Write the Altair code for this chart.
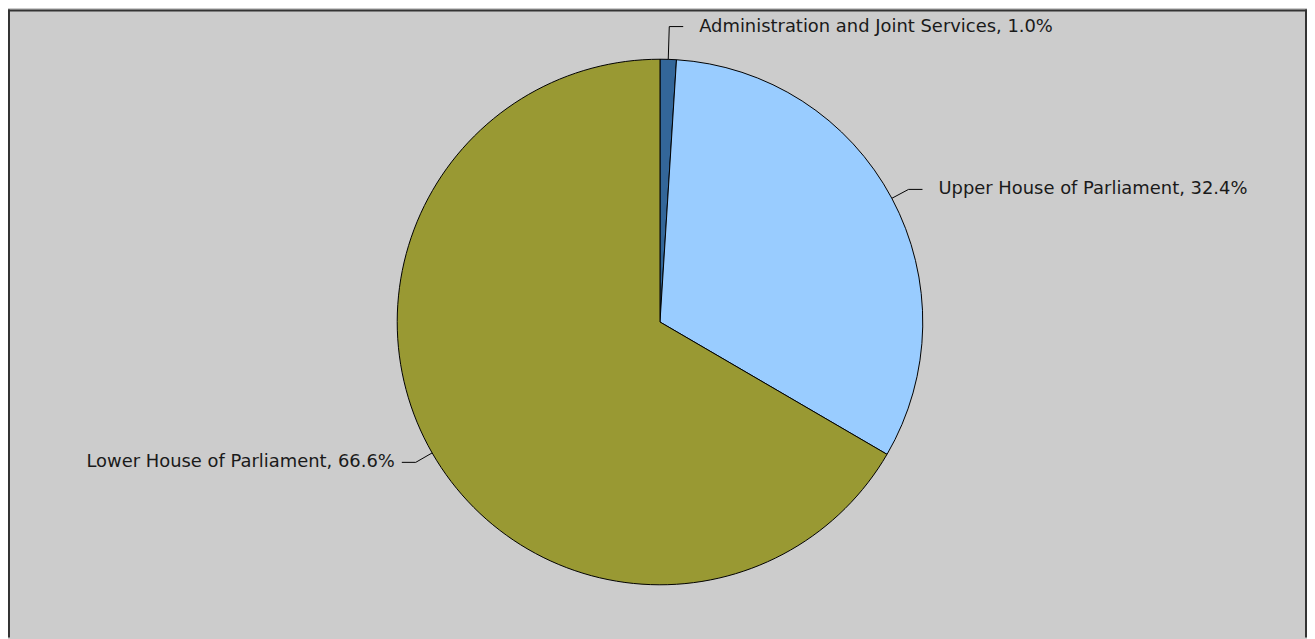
import math
import altair as alt
import pandas as pd

# ---- data ----
categories = ["Administration and Joint Services", "Upper House of Parliament", "Lower House of Parliament"]
shares = [1.0, 32.4, 66.6]
colors = ["#336699", "#99ccff", "#999933"]

# ---- layout / style ----
W, H = 1305, 631
CX, CY = 655, 314
R = 264
FONT = "DejaVu Sans"
FSIZE = 18

pie_df = pd.DataFrame({"category": categories, "share": shares, "idx": list(range(len(shares)))})

# label geometry derived from the slice angles
total = sum(shares)
seg_rows, text_rows = [], []
cum = 0.0
for cat, v in zip(categories, shares):
    a = (cum + v / 2) / total * 2 * math.pi
    cum += v
    s, c = math.sin(a), math.cos(a)
    ex, ey = CX + R * s, CY - R * c
    re = R + 19 + 14 * max(0.0, c) ** 8
    bx, by = CX + re * s, CY - re * c
    side = 1 if s >= 0 else -1
    tx = bx + side * 14
    seg_rows.append({"x": ex, "y": ey, "x2": bx, "y2": by})
    seg_rows.append({"x": bx, "y": by, "x2": tx, "y2": by})
    text_rows.append({
        "x": tx + (16 if side > 0 else -7),
        "y": by,
        "label": f"{cat}, {v:.1f}%",
        "align": "left" if side > 0 else "right",
    })
seg_df = pd.DataFrame(seg_rows)
text_df = pd.DataFrame(text_rows)

pie = alt.Chart(pie_df).mark_arc(outerRadius=R, stroke="#000000", strokeWidth=1).encode(
    theta=alt.Theta("share:Q", stack=True),
    order=alt.Order("idx:Q"),
    color=alt.Color("category:N", scale=alt.Scale(domain=categories, range=colors), legend=None),
    x=alt.value(CX),
    y=alt.value(CY),
)

links = alt.Chart(seg_df).mark_rule(color="#000000", strokeWidth=1).encode(
    x=alt.X("x:Q", scale=None),
    y=alt.Y("y:Q", scale=None),
    x2="x2:Q",
    y2="y2:Q",
)

txt_left = alt.Chart(text_df[text_df["align"] == "left"]).mark_text(
    align="left", baseline="middle", font=FONT, fontSize=FSIZE, color="#1a1a1a"
).encode(x=alt.X("x:Q", scale=None), y=alt.Y("y:Q", scale=None), text="label:N")

txt_right = alt.Chart(text_df[text_df["align"] == "right"]).mark_text(
    align="right", baseline="middle", font=FONT, fontSize=FSIZE, color="#1a1a1a"
).encode(x=alt.X("x:Q", scale=None), y=alt.Y("y:Q", scale=None), text="label:N")

dummy = pd.DataFrame({"a": [0]})
b_left = alt.Chart(dummy).mark_rule(color="#333333", strokeWidth=2).encode(
    x=alt.value(1), y=alt.value(0), y2=alt.value(H))
b_top = alt.Chart(dummy).mark_rule(color="#333333", strokeWidth=2).encode(
    x=alt.value(0), x2=alt.value(W), y=alt.value(1))
b_right = alt.Chart(dummy).mark_rule(color="#333333", strokeWidth=2).encode(
    x=alt.value(W - 1), y=alt.value(0), y2=alt.value(H))

chart = alt.layer(pie, links, txt_left, txt_right, b_left, b_top, b_right).properties(
    width=W, height=H, background="#cccccc", padding=0,
    autosize=alt.AutoSizeParams(type="none"),
).configure_view(stroke=None)

chart.save("out.html", embed_options={"renderer": "svg", "actions": False})
